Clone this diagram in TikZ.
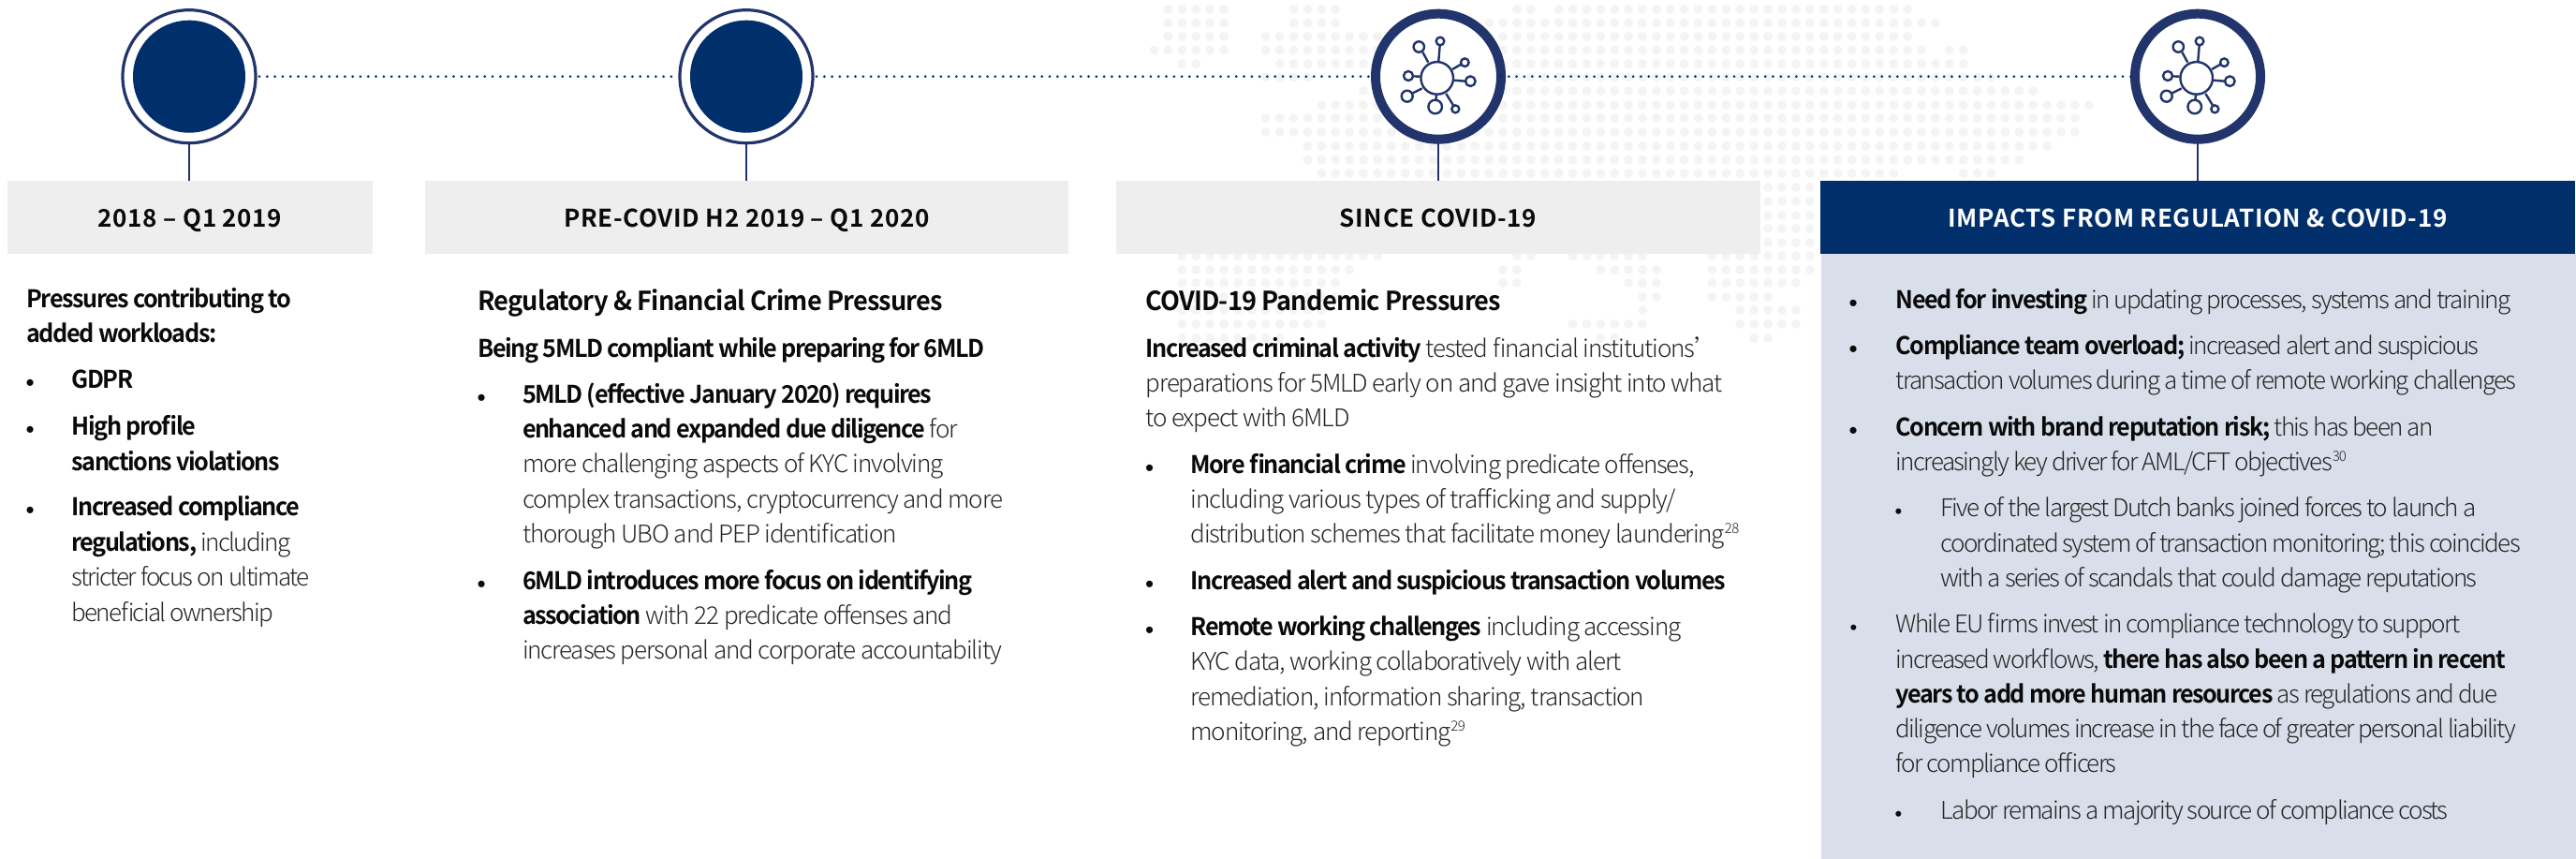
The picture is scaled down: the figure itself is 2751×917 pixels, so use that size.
\documentclass[tikz,border=0pt]{standalone}
\usepackage{fontspec}
\newfontfamily\lightf[LetterSpace=-4.4]{Noto Sans CJK SC Light}
\newfontfamily\lighttf[LetterSpace=-6.3]{Noto Sans CJK SC Light}
\newfontfamily\semif[LetterSpace=-5.5,FakeStretch=0.97]{Noto Sans CJK SC Bold}
\newfontfamily\headf[LetterSpace=-3,FakeStretch=0.97]{Noto Sans CJK SC Bold}
\newfontfamily\capsf[LetterSpace=2.5]{Noto Sans CJK SC Bold}
\newfontfamily\bulf{Liberation Sans}
\definecolor{navy}{HTML}{002F6C}
\definecolor{ringc}{HTML}{21346B}
\definecolor{grayb}{HTML}{EEEEEE}
\definecolor{panel}{HTML}{D9DFEA}
\definecolor{txtg}{HTML}{262626}
\definecolor{txtk}{HTML}{0A0A0A}
\definecolor{mapd}{HTML}{F4F4F4}
\newcommand\B[1]{{\semif\color{txtk}#1}}
\newcommand\Sup[1]{\raisebox{10pt}{\fontsize{15}{15}\selectfont #1}}
\newcommand\Bul{{\bulf\color{txtk}\fontsize{26}{30}\selectfont\raisebox{-2.5pt}{•}}}
\newcommand\Subbul{{\bulf\color{txtk}\fontsize{22}{30}\selectfont\raisebox{-1.5pt}{•}}}
\newcommand\dotrow[3]{\foreach \k in {#2,...,#3}{\fill[mapd] ({1709.3+14.9*\k},#1) circle (5);}}
\newcommand\virus[1]{%
\begin{scope}[shift={(#1)},iconln]
\draw (-1.3,1.7) circle (17.3);
\draw (-20.7,-31.7) circle (5.7);
\draw (2,-37.7) circle (4.3);
\draw (28.3,-15) circle (4.3);
\draw (34.3,5) circle (5.3);
\draw (-32,-0.7) circle (5);
\draw (-33.3,21) circle (6);
\draw (-3.3,32.3) circle (7.3);
\draw (18.3,34.7) circle (4);
\draw (-10.7,-15) -- (-16.7,-26);
\draw (0.3,-16.7) -- (1.7,-33.3);
\draw (15,-7.7) -- (24.3,-13);
\draw (17,4) -- (29,5);
\draw (-19.7,0) -- (-27,-0.3);
\draw (-17.3,12.7) -- (-27.3,17.7);
\draw (-2,20) -- (-2.7,25);
\draw (8.3,18.3) -- (16,30.7);
\end{scope}}
\tikzset{
 x=1pt,y=-1pt,
 ringthin/.style={circle,draw=ringc,line width=3.2,fill=white,minimum size=142,inner sep=0,outer sep=0},
 ringfat/.style={circle,draw=ringc,line width=10,fill=white,minimum size=134,inner sep=0,outer sep=0},
 core/.style={circle,fill=navy,minimum size=120,inner sep=0,outer sep=0},
 iconln/.style={draw=ringc,line width=2.4},
 dotline/.style={draw=navy,line width=3,line cap=round,dash pattern=on 0pt off 8.3pt},
 stem/.style={draw=ringc,line width=2.6},
 grayhead/.style={fill=grayb,text=txtk,inner sep=0,outer sep=0,font=\capsf\fontsize{26}{30}\selectfont,minimum height=78,text height=22,text depth=0},
 bluehead/.style={fill=navy,text=white,inner sep=0,outer sep=0,font=\capsf\fontsize{26}{30}\selectfont,minimum height=78,text height=22,text depth=0},
 tx/.style={anchor=base west,inner sep=0,outer sep=0,xshift=-1.5pt,yshift=-1.5pt,text=txtg,font=\lightf\fontsize{26}{30}\selectfont},
 txt/.style={tx,font=\lighttf\fontsize{26}{30}\selectfont},
 hd/.style={anchor=base west,inner sep=0,outer sep=0,xshift=-1.5pt,yshift=-2.5pt,text=txtk,font=\headf\fontsize{28}{30}\selectfont},
}
\begin{document}
\begin{tikzpicture}
\useasboundingbox (0,0) rectangle (2751,917);
% background map of dots
\dotrow{10}{-31}{-27}\dotrow{10}{-22}{-19}\dotrow{10}{-6}{-5}\dotrow{10}{-3}{22}
\dotrow{24.5}{-31}{-27}\dotrow{24.5}{-22}{-19}\dotrow{24.5}{-8}{24}
\dotrow{39}{-31}{-27}\dotrow{39}{-24}{22}
\dotrow{53.5}{-32}{-27}\dotrow{53.5}{-24}{23}\dotrow{53.5}{25}{26}
\dotrow{68}{-30}{-29}\dotrow{68}{-23}{26}
\dotrow{82.5}{-24}{-21}\dotrow{82.5}{-7}{28}
\dotrow{97}{-17}{-17}\dotrow{97}{-7}{31}
\dotrow{112}{-20}{35}
\dotrow{126}{-24}{34}
\dotrow{141}{-24}{34}
\dotrow{156}{-21}{32}
\dotrow{170.5}{-21}{30}
\dotrow{185}{-20}{21}\dotrow{185}{26}{28}
\dotrow{200}{12}{15}\dotrow{215}{12}{15}\dotrow{230}{12}{15}\dotrow{244}{12}{15}\dotrow{259}{12}{15}
\dotrow{273}{-30}{-16}\dotrow{273}{-6}{-5}\dotrow{273}{-2}{3}\dotrow{273}{8}{15}
\dotrow{288}{-30}{-18}\dotrow{288}{-7}{-6}\dotrow{288}{0}{4}\dotrow{288}{8}{15}
\dotrow{302}{-30}{-19}\dotrow{302}{-7}{-6}\dotrow{302}{2}{4}\dotrow{302}{8}{14}
\dotrow{317}{-30}{-19}\dotrow{317}{3}{4}\dotrow{317}{8}{12}
\dotrow{331}{-30}{-20}\dotrow{331}{3}{3}\dotrow{331}{10}{14}
\dotrow{346}{-30}{-20}\dotrow{346}{-2}{3}\dotrow{346}{10}{14}
\dotrow{361}{-30}{-23}\dotrow{361}{0}{1}\dotrow{361}{11}{12}
\dotrow{375}{-29}{-26}
% panel
\fill[panel] (1945,271) rectangle (2751,917);
% header boxes
\node[grayhead,minimum width=390] (h1) at (203,232) {2018 – Q1 2019};
\node[grayhead,minimum width=687] (h2) at (797.5,232) {PRE-COVID H2 2019 – Q1 2020};
\node[grayhead,minimum width=688] (h3) at (1536,232) {SINCE COVID-19};
\node[bluehead,minimum width=806] (h4) at (2347,232) {IMPACTS FROM REGULATION \& COVID-19};
% timeline rings
\node[ringthin] (r1) at (202,81.7) {};
\node[ringthin] (r2) at (797,81.7) {};
\node[ringfat] (r3) at (1536,81.7) {};
\node[ringfat] (r4) at (2347,81.7) {};
\node[core] (k1) at (r1.center) {};
\node[core] (k2) at (r2.center) {};
\virus{r3.center}
\virus{r4.center}
\draw[dotline,shorten >=4pt,shorten <=4pt] (r1) -- (r2);
\draw[dotline,shorten <=4pt] (r2) -- (r3);
\draw[dotline] (r3) -- (r4);
\draw[stem] (r1.south) -- (r1.south |- h1.north);
\draw[stem] (r2.south) -- (r2.south |- h2.north);
\draw[stem] (r3.south) -- (r3.south |- h3.north);
\draw[stem] (r4.south) -- (r4.south |- h4.north);
% column 1
\node[tx] (a1) at (30,327) {\B{Pressures contributing to}};
\node[tx] (a2) at (30,364) {\B{added workloads:}};
\node[tx] (a3b) at (29,413) {\Bul};
\node[tx] (a3) at (78,413) {\B{GDPR}};
\node[tx] (a4b) at (29,463) {\Bul};
\node[tx] (a4) at (78,463) {\B{High profile}};
\node[tx] (a5) at (78,501) {\B{sanctions violations}};
\node[tx] (a6b) at (29,549) {\Bul};
\node[tx] (a6) at (78,549) {\B{Increased compliance}};
\node[txt] (a7) at (78,587) {\B{regulations,} including};
\node[txt] (a8) at (78,624) {stricter focus on ultimate};
\node[txt] (a9) at (78,662) {beneficial ownership};
% column 2
\node[hd] (b1) at (512,329) {Regulatory \& Financial Crime Pressures};
\node[tx] (b2) at (512,380) {\B{Being 5MLD compliant while preparing for 6MLD}};
\node[tx] (b3b) at (511,429) {\Bul};
\node[tx] (b3) at (559.5,429) {\B{5MLD (effective January 2020) requires}};
\node[tx] (b4) at (559.5,466) {\B{enhanced and expanded due diligence} for};
\node[tx] (b5) at (559.5,503) {more challenging aspects of KYC involving};
\node[tx] (b6) at (559.5,541) {complex transactions, cryptocurrency and more};
\node[tx] (b7) at (559.5,578) {thorough UBO and PEP identification};
\node[tx] (b8b) at (511,628) {\Bul};
\node[tx] (b8) at (559.5,628) {\B{6MLD introduces more focus on identifying}};
\node[tx] (b9) at (559.5,665) {\B{association} with 22 predicate offenses and};
\node[tx] (b10) at (559.5,702) {increases personal and corporate accountability};
% column 3
\node[hd] (c1) at (1225,329) {COVID-19 Pandemic Pressures};
\node[tx] (c2) at (1225,380) {\B{Increased criminal activity} tested financial institutions’};
\node[tx] (c3) at (1225,417) {preparations for 5MLD early on and gave insight into what};
\node[tx] (c4) at (1225,454) {to expect with 6MLD};
\node[tx] (c5b) at (1224.5,504) {\Bul};
\node[tx] (c5) at (1273,504) {\B{More financial crime} involving predicate offenses,};
\node[tx] (c6) at (1273,541) {including various types of trafficking and supply/};
\node[tx] (c7) at (1273,578) {distribution schemes that facilitate money laundering\Sup{28}};
\node[tx] (c8b) at (1224.5,628) {\Bul};
\node[tx] (c8) at (1273,628) {\B{Increased alert and suspicious transaction volumes}};
\node[tx] (c9b) at (1224.5,677) {\Bul};
\node[tx] (c9) at (1273,677) {\B{Remote working challenges} including accessing};
\node[tx] (c10) at (1273,714) {KYC data, working collaboratively with alert};
\node[tx] (c11) at (1273,752) {remediation, information sharing, transaction};
\node[tx] (c12) at (1273,789) {monitoring, and reporting\Sup{29}};
% column 4
\node[txt] (d1b) at (1976,328) {\Bul};
\node[txt] (d1) at (2026,328) {\B{Need for investing} in updating processes, systems and training};
\node[txt] (d2b) at (1976,377) {\Bul};
\node[txt] (d2) at (2026,377) {\B{Compliance team overload;} increased alert and suspicious};
\node[txt] (d3) at (2026,414) {transaction volumes during a time of remote working challenges};
\node[txt] (d4b) at (1976,464) {\Bul};
\node[txt] (d4) at (2026,464) {\B{Concern with brand reputation risk;} this has been an};
\node[txt] (d5) at (2026,501) {increasingly key driver for AML/CFT objectives\Sup{30}};
\node[txt] (d6b) at (2025,550) {\Subbul};
\node[txt] (d6) at (2074,550) {Five of the largest Dutch banks joined forces to launch a};
\node[txt] (d7) at (2074,588) {coordinated system of transaction monitoring; this coincides};
\node[txt] (d8) at (2074,625) {with a series of scandals that could damage reputations};
\node[txt] (d9b) at (1977,674) {\Subbul};
\node[txt] (d9) at (2026,674) {While EU firms invest in compliance technology to support};
\node[txt] (d10) at (2026,712) {increased workflows, \B{there has also been a pattern in recent}};
\node[txt] (d11) at (2026,749) {\B{years to add more human resources} as regulations and due};
\node[txt] (d12) at (2026,786) {diligence volumes increase in the face of greater personal liability};
\node[txt] (d13) at (2026,823) {for compliance officers};
\node[txt] (d14b) at (2025,873) {\Subbul};
\node[txt] (d14) at (2074,873) {Labor remains a majority source of compliance costs};
\end{tikzpicture}
\end{document}
